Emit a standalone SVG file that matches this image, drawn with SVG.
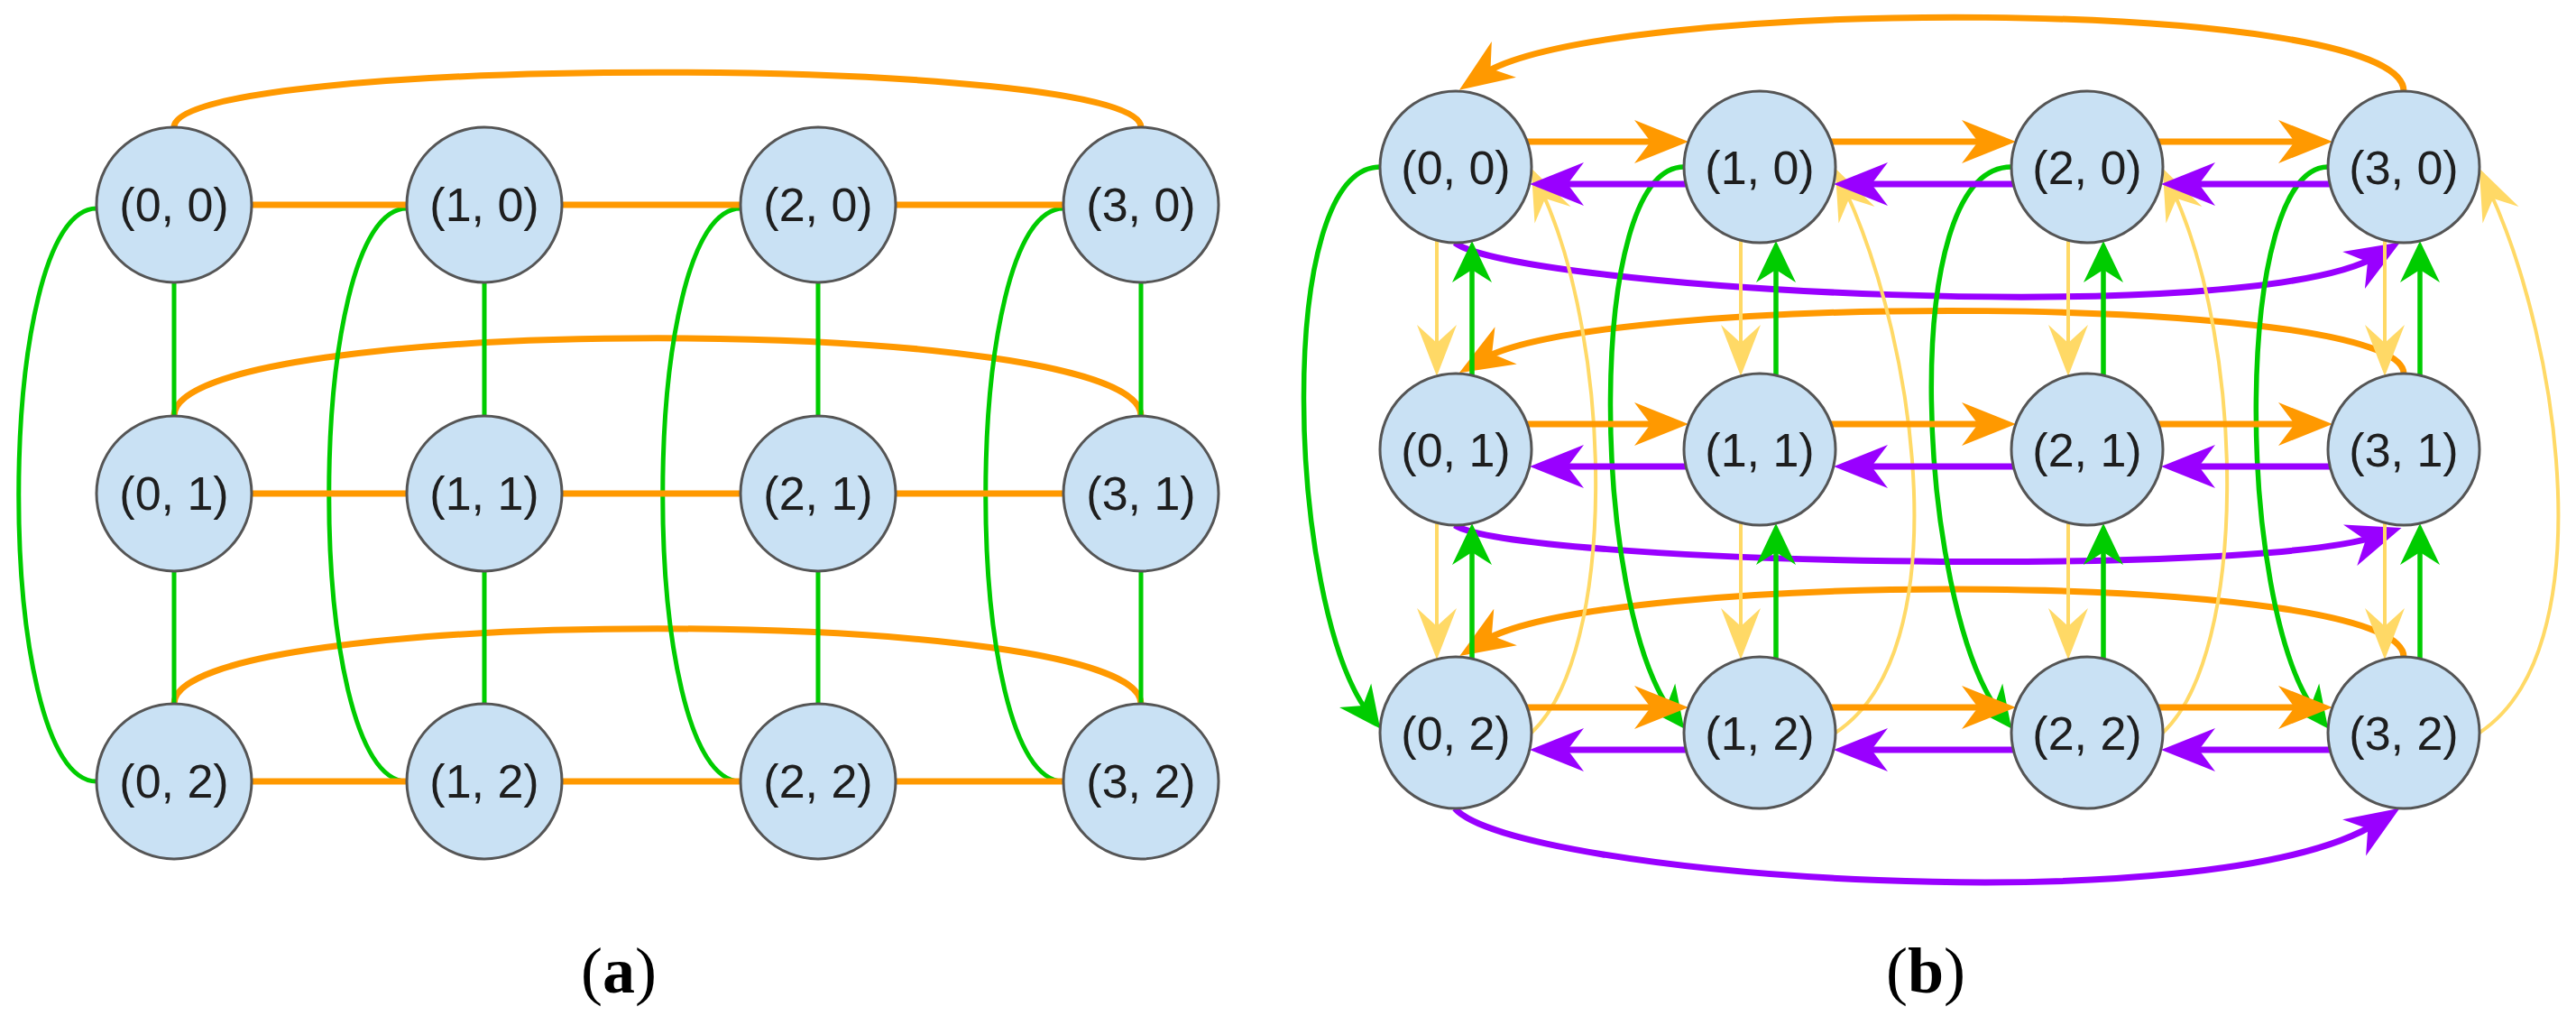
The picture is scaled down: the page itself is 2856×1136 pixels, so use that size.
<svg xmlns="http://www.w3.org/2000/svg" width="2856" height="1136" viewBox="0 0 2856 1136">
<style>
.node{fill:#c9e1f4;stroke:#555;stroke-width:3}
.lbl{font-family:"Liberation Sans",Arial,sans-serif;font-size:52px;fill:#1e1e1e;text-anchor:middle}
.cap{font-family:"Liberation Serif","Times New Roman",serif;font-size:72px;fill:#000;text-anchor:middle}
.o{fill:none;stroke:#ff9900;stroke-width:7}
.g{fill:none;stroke:#00cc00;stroke-width:5}
.gb{fill:none;stroke:#00cc00;stroke-width:5.5}
.p{fill:none;stroke:#9900ff;stroke-width:7}
.y{fill:none;stroke:#ffd966;stroke-width:4}
</style>
<defs>
<marker id="aO" viewBox="-40 -30 80 60" markerWidth="80" markerHeight="60" refX="0" refY="0" markerUnits="userSpaceOnUse" orient="auto"><path d="M28,0 L-32,-24 L-14,0 L-32,24 Z" fill="#ff9900"/></marker>
<marker id="aP" viewBox="-40 -30 80 60" markerWidth="80" markerHeight="60" refX="0" refY="0" markerUnits="userSpaceOnUse" orient="auto"><path d="M28,0 L-32,-24 L-14,0 L-32,24 Z" fill="#9900ff"/></marker>
<marker id="aG" viewBox="-40 -30 80 60" markerWidth="80" markerHeight="60" refX="0" refY="0" markerUnits="userSpaceOnUse" orient="auto"><path d="M22,0 L-24,-22 L-10,0 L-24,22 Z" fill="#00cc00"/></marker>
<marker id="aY" viewBox="-40 -30 80 60" markerWidth="80" markerHeight="60" refX="0" refY="0" markerUnits="userSpaceOnUse" orient="auto"><path d="M27,0 L-30,-22 L-10,0 L-30,22 Z" fill="#ffd966"/></marker>
</defs>
<rect width="2856" height="1136" fill="#fff"/>

<g id="connectors-a">
<path class="o" d="M193,141 C193,60 1265,60 1265,141"/>
<path class="o" d="M193,461 C193,346 1265,346 1265,461"/>
<path class="o" d="M193,780 C193,669 1265,669 1265,780"/>
<path class="g" d="M107,231 C-8,231 -8,866 107,866"/>
<path class="g" d="M451,231 C336,231 336,866 451,866"/>
<path class="g" d="M821,231 C706,231 706,866 821,866"/>
<path class="g" d="M1179,231 C1064,231 1064,866 1179,866"/>
<path class="o" d="M279,227 H451 M623,227 H821 M993,227 H1179 M279,547 H451 M623,547 H821 M993,547 H1179 M279,866 H451 M623,866 H821 M993,866 H1179"/>
<path class="g" d="M193,313 V461 M193,633 V780 M537,313 V461 M537,633 V780 M907,313 V461 M907,633 V780 M1265,313 V461 M1265,633 V780"/>
</g>

<g id="connectors-b">
<path class="o" marker-end="url(#aO)" d="M2665,101 C2665,-5 1771,-5 1641,84"/>
<path class="o" marker-end="url(#aO)" d="M2665,414 C2665,325 1772,323 1642,399"/>
<path class="o" marker-end="url(#aO)" d="M2665,728 C2665,632 1772,630 1642,712"/>
<path class="p" marker-end="url(#aP)" d="M1613,269 C1680,320 2497,367 2637,283"/>
<path class="p" marker-end="url(#aP)" d="M1613,582 C1680,625 2496,641 2636,594"/>
<path class="p" marker-end="url(#aP)" d="M1613,896 C1680,972 2457,1027 2637,911"/>
<path class="gb" marker-end="url(#aG)" d="M1530,185 C1412,185 1427,670 1517,790"/>
<path class="gb" marker-end="url(#aG)" d="M1867,185 C1757,185 1764,670 1854,790"/>
<path class="gb" marker-end="url(#aG)" d="M2230,185 C2101,185 2127,670 2217,790"/>
<path class="gb" marker-end="url(#aG)" d="M2581,185 C2476,185 2478,670 2568,790"/>
<path class="y" marker-end="url(#aY)" d="M1698,812 C1793,722 1789,385 1709,211"/>
<path class="y" marker-end="url(#aY)" d="M2035,812 C2172,722 2126,385 2046,211"/>
<path class="y" marker-end="url(#aY)" d="M2398,812 C2493,722 2489,385 2409,211"/>
<path class="y" marker-end="url(#aY)" d="M2749,812 C2886,722 2840,385 2760,211"/>

<path class="o" marker-end="url(#aO)" d="M1693,157 H1844"/>
<path class="o" marker-end="url(#aO)" d="M2030,157 H2207"/>
<path class="o" marker-end="url(#aO)" d="M2393,157 H2558"/>
<path class="o" marker-end="url(#aO)" d="M1693,470 H1844"/>
<path class="o" marker-end="url(#aO)" d="M2030,470 H2207"/>
<path class="o" marker-end="url(#aO)" d="M2393,470 H2558"/>
<path class="o" marker-end="url(#aO)" d="M1693,784 H1844"/>
<path class="o" marker-end="url(#aO)" d="M2030,784 H2207"/>
<path class="o" marker-end="url(#aO)" d="M2393,784 H2558"/>

<path class="p" marker-end="url(#aP)" d="M1869,204 H1724"/>
<path class="p" marker-end="url(#aP)" d="M2232,204 H2061"/>
<path class="p" marker-end="url(#aP)" d="M2583,204 H2424"/>
<path class="p" marker-end="url(#aP)" d="M1869,517 H1724"/>
<path class="p" marker-end="url(#aP)" d="M2232,517 H2061"/>
<path class="p" marker-end="url(#aP)" d="M2583,517 H2424"/>
<path class="p" marker-end="url(#aP)" d="M1869,831 H1724"/>
<path class="p" marker-end="url(#aP)" d="M2232,831 H2061"/>
<path class="p" marker-end="url(#aP)" d="M2583,831 H2424"/>

<path class="y" marker-end="url(#aY)" d="M1593,266 V390"/>
<path class="y" marker-end="url(#aY)" d="M1930,266 V390"/>
<path class="y" marker-end="url(#aY)" d="M2293,266 V390"/>
<path class="y" marker-end="url(#aY)" d="M2644,266 V390"/>
<path class="y" marker-end="url(#aY)" d="M1593,579 V704"/>
<path class="y" marker-end="url(#aY)" d="M1930,579 V704"/>
<path class="y" marker-end="url(#aY)" d="M2293,579 V704"/>
<path class="y" marker-end="url(#aY)" d="M2644,579 V704"/>

<path class="gb" marker-end="url(#aG)" d="M1632,416 V289"/>
<path class="gb" marker-end="url(#aG)" d="M1969,416 V289"/>
<path class="gb" marker-end="url(#aG)" d="M2332,416 V289"/>
<path class="gb" marker-end="url(#aG)" d="M2683,416 V289"/>
<path class="gb" marker-end="url(#aG)" d="M1632,730 V602"/>
<path class="gb" marker-end="url(#aG)" d="M1969,730 V602"/>
<path class="gb" marker-end="url(#aG)" d="M2332,730 V602"/>
<path class="gb" marker-end="url(#aG)" d="M2683,730 V602"/>
</g>

<g id="nodes-a">
<g id="a-0-0"><circle class="node" cx="193" cy="227" r="86"/><text class="lbl" x="193" y="245">(0, 0)</text></g>
<g id="a-1-0"><circle class="node" cx="537" cy="227" r="86"/><text class="lbl" x="537" y="245">(1, 0)</text></g>
<g id="a-2-0"><circle class="node" cx="907" cy="227" r="86"/><text class="lbl" x="907" y="245">(2, 0)</text></g>
<g id="a-3-0"><circle class="node" cx="1265" cy="227" r="86"/><text class="lbl" x="1265" y="245">(3, 0)</text></g>
<g id="a-0-1"><circle class="node" cx="193" cy="547" r="86"/><text class="lbl" x="193" y="565">(0, 1)</text></g>
<g id="a-1-1"><circle class="node" cx="537" cy="547" r="86"/><text class="lbl" x="537" y="565">(1, 1)</text></g>
<g id="a-2-1"><circle class="node" cx="907" cy="547" r="86"/><text class="lbl" x="907" y="565">(2, 1)</text></g>
<g id="a-3-1"><circle class="node" cx="1265" cy="547" r="86"/><text class="lbl" x="1265" y="565">(3, 1)</text></g>
<g id="a-0-2"><circle class="node" cx="193" cy="866" r="86"/><text class="lbl" x="193" y="884">(0, 2)</text></g>
<g id="a-1-2"><circle class="node" cx="537" cy="866" r="86"/><text class="lbl" x="537" y="884">(1, 2)</text></g>
<g id="a-2-2"><circle class="node" cx="907" cy="866" r="86"/><text class="lbl" x="907" y="884">(2, 2)</text></g>
<g id="a-3-2"><circle class="node" cx="1265" cy="866" r="86"/><text class="lbl" x="1265" y="884">(3, 2)</text></g>
</g>

<g id="nodes-b">
<g id="b-0-0"><circle class="node" cx="1614" cy="185" r="84"/><text class="lbl" x="1614" y="204">(0, 0)</text></g>
<g id="b-1-0"><circle class="node" cx="1951" cy="185" r="84"/><text class="lbl" x="1951" y="204">(1, 0)</text></g>
<g id="b-2-0"><circle class="node" cx="2314" cy="185" r="84"/><text class="lbl" x="2314" y="204">(2, 0)</text></g>
<g id="b-3-0"><circle class="node" cx="2665" cy="185" r="84"/><text class="lbl" x="2665" y="204">(3, 0)</text></g>
<g id="b-0-1"><circle class="node" cx="1614" cy="498" r="84"/><text class="lbl" x="1614" y="517">(0, 1)</text></g>
<g id="b-1-1"><circle class="node" cx="1951" cy="498" r="84"/><text class="lbl" x="1951" y="517">(1, 1)</text></g>
<g id="b-2-1"><circle class="node" cx="2314" cy="498" r="84"/><text class="lbl" x="2314" y="517">(2, 1)</text></g>
<g id="b-3-1"><circle class="node" cx="2665" cy="498" r="84"/><text class="lbl" x="2665" y="517">(3, 1)</text></g>
<g id="b-0-2"><circle class="node" cx="1614" cy="812" r="84"/><text class="lbl" x="1614" y="831">(0, 2)</text></g>
<g id="b-1-2"><circle class="node" cx="1951" cy="812" r="84"/><text class="lbl" x="1951" y="831">(1, 2)</text></g>
<g id="b-2-2"><circle class="node" cx="2314" cy="812" r="84"/><text class="lbl" x="2314" y="831">(2, 2)</text></g>
<g id="b-3-2"><circle class="node" cx="2665" cy="812" r="84"/><text class="lbl" x="2665" y="831">(3, 2)</text></g>
</g>

<g id="captions">
<text class="cap" x="686" y="1100">(<tspan font-weight="bold">a</tspan>)</text>
<text class="cap" x="2135" y="1100">(<tspan font-weight="bold">b</tspan>)</text>
</g>
</svg>
